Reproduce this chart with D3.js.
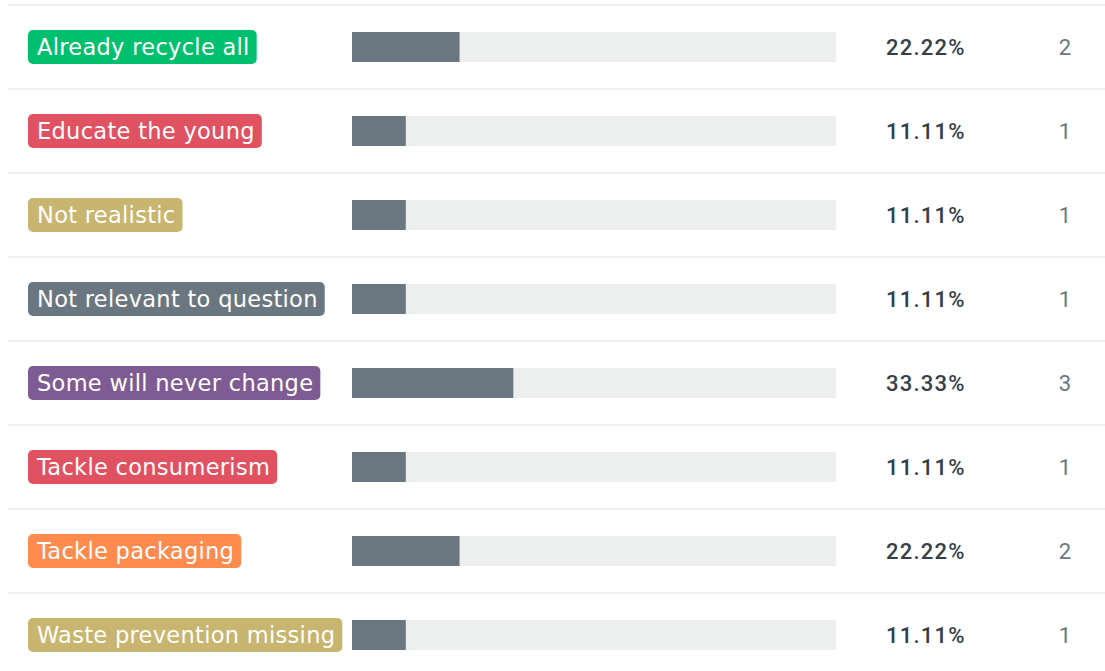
<!DOCTYPE html>
<html>
<head>
<meta charset="utf-8">
<script src="https://cdn.jsdelivr.net/npm/d3@7"></script>
<style>
  body { margin: 0; background: #fff; }
  text { font-family: "DejaVu Sans", "Noto Sans", sans-serif; }
</style>
</head>
<body>
<div id="chart"></div>
<script>
// answer choices, shares and counts
const categories = ["Already recycle all", "Educate the young", "Not realistic", "Not relevant to question",
    "Some will never change", "Tackle consumerism", "Tackle packaging", "Waste prevention missing"];
const percents = [22.22, 11.11, 11.11, 11.11, 33.33, 11.11, 22.22, 11.11];
const counts = [2, 1, 1, 1, 3, 1, 2, 1];
const tagColors = ["#00bf6f", "#e05161", "#c8b56f", "#6b7780", "#7e5b92", "#e05161", "#ff8b4f", "#c8b56f"];

const width = 1105, height = 671;

const svg = d3.select("#chart").append("svg")
    .attr("width", width)
    .attr("height", height);

// rows
let y = d3.scaleBand()
    .domain(categories)
    .range([6, 6 + 84 * categories.length])
    .padding(0);

// bar scale
let x = d3.scaleLinear()
    .domain([0, 100])
    .range([352, 836]);

let rows = svg.selectAll(".row")
    .data(categories)
    .enter().append("g")
    .attr("class", "row")
    .attr("transform", d => `translate(0,${y(d)})`);

// separator lines
rows.append("line")
    .attr("x1", 8).attr("x2", width)
    .attr("y1", -1).attr("y2", -1)
    .attr("stroke", "#efefef")
    .attr("stroke-width", 2);

let mid = y.bandwidth() / 2;

// tags
let tags = rows.append("g");
tags.append("rect")
    .attr("class", "tag")
    .attr("x", 28)
    .attr("y", mid - 17 - 1)
    .attr("height", 34)
    .attr("rx", 5)
    .attr("fill", (d, i) => tagColors[i]);

tags.append("text")
    .attr("x", 37)
    .attr("y", mid - 1)
    .attr("dy", "0.36em")
    .attr("fill", "#fff")
    .style("font-size", "22.5px")
    .style("letter-spacing", "0.3px")
    .text(d => d);

tags.each(function () {
    let g = d3.select(this);
    let w = g.select("text").node().getComputedTextLength();
    g.select("rect").attr("width", w + 16);
});

// background bars
rows.append("rect")
    .attr("x", x(0))
    .attr("y", mid - 16)
    .attr("width", x(100) - x(0))
    .attr("height", 30)
    .attr("fill", "#edeeee");

// value bars
rows.append("rect")
    .attr("x", x(0))
    .attr("y", mid - 16)
    .attr("width", (d, i) => x(percents[i]) - x(0))
    .attr("height", 30)
    .attr("fill", "#6b7780");

// percent labels
rows.append("text")
    .attr("x", 886)
    .attr("y", mid - 1)
    .attr("dy", "0.36em")
    .attr("fill", "#333e48")
    .style("font-size", "22px")
    .style("font-family", "Roboto, sans-serif")
    .style("font-weight", "500")
    .style("letter-spacing", "1.2px")
    .text((d, i) => percents[i].toFixed(2) + "%");

// counts
rows.append("text")
    .attr("x", 1065)
    .attr("y", mid - 1)
    .attr("dy", "0.36em")
    .attr("text-anchor", "middle")
    .attr("fill", "#6b7780")
    .style("font-size", "22px")
    .style("font-family", "Roboto, sans-serif")
    .text((d, i) => counts[i]);
</script>
</body>
</html>
